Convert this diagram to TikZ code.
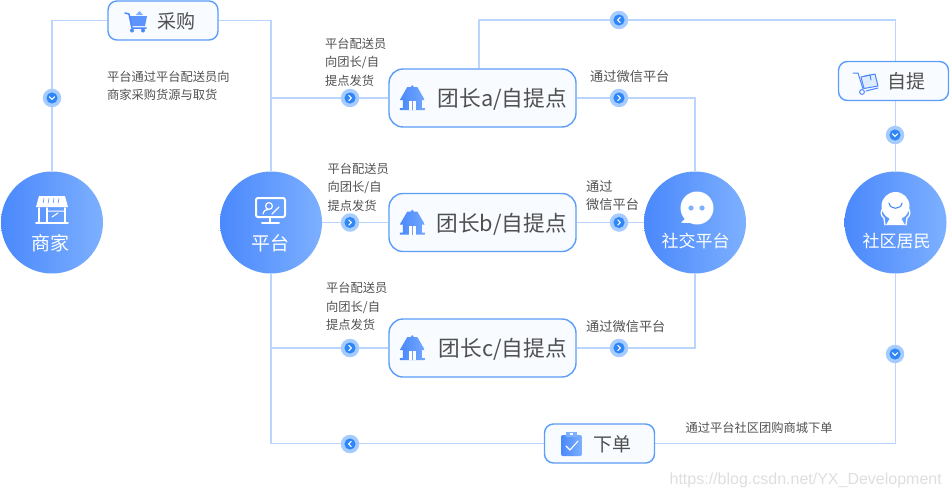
\documentclass[tikz,border=0pt]{standalone}
\usepackage{fontspec}
\setmainfont{Noto Sans CJK SC}
\newfontfamily\markfont{Liberation Sans}
\usepackage{xcolor}
\usetikzlibrary{arrows.meta,positioning,calc,backgrounds}
\definecolor{flowLine}{HTML}{BAD6FF}
\definecolor{flowBlue}{HTML}{4A88FC}
\definecolor{flowPale}{HTML}{7DB0FF}
\definecolor{flowEdge}{HTML}{5C9DF8}
\definecolor{flowFill}{HTML}{F8FBFF}
\definecolor{flowText}{HTML}{505050}
\definecolor{badgeOut}{HTML}{A6CCFF}
\definecolor{badgeIn}{HTML}{2F86F6}
\tikzset{
  hub/.style={circle, minimum size=102pt, inner sep=0pt, left color=flowBlue, right color=flowPale},
  hubtext/.style={text=white, font=\fontsize{#1}{#1}\selectfont, inner sep=0pt},
  smallbox/.style={draw=flowEdge, fill=flowFill, line width=1.4pt, rounded corners=9pt, minimum height=39pt,
    text width=64pt, text height=17.5pt, text depth=2pt, inner xsep=23pt, inner ysep=0pt, align=right, text=flowText, font=\fontsize{19}{19}\selectfont},
  tuanbox/.style={draw=flowEdge, fill=flowFill, line width=1.4pt, rounded corners=14pt, minimum height=58pt,
    text width=169pt, text height=20pt, text depth=3pt, inner xsep=9pt, inner ysep=0pt, align=right, text=flowText, font=\fontsize{21.7}{21.7}\selectfont},
  note/.style={anchor=west, inner sep=0pt, align=left, text=flowText, font=\fontsize{12.25}{18.5}\selectfont},
  link/.style={draw=flowLine, line width=1.6pt},
  badge/.style={circle, minimum size=18.5pt, inner sep=0pt, fill=badgeOut},
  chevron/.style={draw=white, line width=1.1pt, line cap=round, line join=round},
  iconline/.style={draw=flowBlue, line width=1pt, line cap=round, line join=round},
  whiteline/.style={draw=white, line width=1.6pt, line cap=round, line join=round},
}
\begin{document}
\begin{tikzpicture}[x=1pt,y=-1pt]
\useasboundingbox (0,0) rectangle (950,498);
\foreach \name/\x in {shangjia/52,pingtai/271,shejiao/695,jumin/895.5}{
  \node[hub] (\name) at (\x,222.5) {};
}
\node[hubtext=19] (shangjiaL) at (50,243.5) {商家};
\node[hubtext=19] (pingtaiL) at (270,243.5) {平台};
\node[hubtext=17] (shejiaoL) at (695.5,241) {社交平台};
\node[hubtext=17] (juminL) at (896.5,241) {社区居民};

\node[smallbox] (caigou) at (163,20.5) {采购};
\node[smallbox] (ziti) at (893.5,81) {自提};
\node[smallbox] (xiadan) at (599.5,443.5) {下单};
\node[tuanbox] (tuanA) at (482.5,98) {团长a/自提点};
\node[tuanbox] (tuanB) at (482.5,222.5) {团长b/自提点};
\node[tuanbox] (tuanC) at (482.5,348) {团长c/自提点};

\coordinate (topbend) at (479,20);
\begin{scope}[on background layer]
\draw[link] (shangjia) -- (shangjia |- caigou) -- (caigou);
\draw[link] (caigou) -- (pingtai |- caigou) -- (pingtai);
\draw[link] (pingtai) -- (pingtai |- xiadan) -- (xiadan);
\draw[link] (pingtai |- tuanA) -- (tuanA);
\draw[link] (pingtai) -- (tuanB);
\draw[link] (pingtai |- tuanC) -- (tuanC);
\draw[link] (tuanA) -- (shejiao |- tuanA) -- (shejiao);
\draw[link] (tuanB) -- (shejiao);
\draw[link] (tuanC) -- (shejiao |- tuanC) -- (shejiao);
\draw[link] (topbend |- tuanA.north) -- (topbend) -- (topbend -| jumin) -- (jumin |- ziti.north);
\draw[link] (jumin |- ziti.south) -- (jumin);
\draw[link] (jumin) -- (jumin |- xiadan) -- (xiadan);
\end{scope}

\foreach \name/\x/\y/\rot in {bShangjia/52/98/-90,bA/350/98/0,bB/350/222.5/0,bC/350/348/0,bWxA/619/98/0,bWxB/619/222.5/0,bWxC/619/348/0,bTop/619/20/180,bZiti/895/135/-90,bJumin/895/354/-90,bXiadan/350/444/180}{
  \node[badge] (\name) at (\x,\y) {};
  \fill[badgeIn] (\name) circle (5.6);
  \draw[chevron, shift={(\name)}, rotate=\rot] (-1.2,-2.6) -- (1.4,0) -- (-1.2,2.6);
}

\node[note] (noteCaigou) at (107,86) {平台通过平台配送员向\\商家采购货源与取货};
\node[note] (noteA) at (325,62) {平台配送员\\向团长/自\\提点发货};
\node[note] (noteB) at (327.5,187) {平台配送员\\向团长/自\\提点发货};
\node[note] (noteC) at (326,306.5) {平台配送员\\向团长/自\\提点发货};
\node[note, font=\fontsize{13.2}{18.5}\selectfont] (noteWxA) at (590,76.5) {通过微信平台};
\node[note, font=\fontsize{13.2}{18.5}\selectfont] (noteWxB) at (586,195.5) {通过\\微信平台};
\node[note, font=\fontsize{13.2}{18.5}\selectfont] (noteWxC) at (586,326.5) {通过微信平台};
\node[note] (noteXiadan) at (685.5,427.5) {通过平台社区团购商城下单};
\node[anchor=east, inner sep=0pt, text=black!13, font=\markfont\fontsize{16}{16}\selectfont] (mark) at (942,480) {https://blog.csdn.net/YX\_Development};

% icons
\foreach \name in {tuanA,tuanB,tuanC}{
  \begin{scope}[shift={($(\name.west)+(24,0)$)}]
    \shade[left color=flowBlue, right color=flowPale!80!flowBlue]
      (-5,-11) -- (-1.5,-11) -- (0,-13) -- (1.5,-11) -- (5,-11) -- (12.5,2) -- (9.5,2) -- (9.5,10) -- (12.5,10) -- (12.5,12)
      -- (-12.5,12) -- (-12.5,10) -- (-9.5,10) -- (-9.5,2) -- (-12.5,2) -- cycle;
    \fill[white] (-3.5,3) rectangle (3.5,12);
    \fill[flowBlue!80] (-0.7,3) rectangle (0.7,12);
  \end{scope}
}
% shop
\fill[white] (39,196) -- (65,196) -- (68,207) -- (36,207) -- cycle;
\foreach \x in {44,49,54,59}{\draw[flowBlue!80, line width=.7pt] (\x,198) -- (\x-.8,203);}
\draw[whiteline] (39,208) -- (39,222) (65,208) -- (65,222) (47,208) -- (47,222) (36,223) -- (68,223);
\draw[whiteline, line width=1pt] (47,211) -- (65,211) (52,217) -- (58,213);
% monitor
\draw[whiteline, line width=2pt, rounded corners=2pt] (256,198) rectangle (285,217);
\draw[whiteline, line width=2pt] (270,217) -- (270,222) (262,223) -- (279,223);
\draw[whiteline, line width=1.2pt] (269,206) circle (3.4) (263,214) .. controls (264,210) and (266,209.5) .. (268,209.5);
\draw[whiteline, line width=1.2pt] (272,214) -- (279,207);
% chat
\fill[white] (697,208) circle (16.5);
\fill[white] (686,218) -- (681,222.5) .. controls (686,223.5) and (690,223) .. (694,222) -- cycle;
\fill[flowPale] (691,208) circle (2.6) (702,208) circle (2.6);
% resident
\fill[white] (895.5,206) circle (14);
\fill[white] (890,218) -- (901,218) -- (905,225) -- (886,225) -- cycle;
\draw[flowBlue, line width=1.1pt, line cap=round] (889,203) .. controls (890,210) and (901,210) .. (902,203);
\draw[whiteline, line width=1.3pt] (883,208) .. controls (880,212) and (881,216) .. (884,218) -- (885,225);
\draw[whiteline, line width=1.3pt] (908,208) .. controls (911,212) and (910,216) .. (907,218) -- (906,225);
% cart
\fill[flowBlue!90] (129,16) -- (147,16) -- (145,26) -- (131,26) -- cycle;
\draw[iconline, line width=1.5pt] (125,13) -- (129,14) -- (132,28) -- (146,28);
\fill[flowPale] (136,15) -- (139.5,11) -- (143,15) -- cycle;
\fill[flowBlue] (132,30.5) circle (2) (143,30.5) circle (2);
% hand truck
\draw[iconline] (853,73) -- (858,73) -- (863,89);
\draw[iconline] (862,92) circle (2.4) (866,91) -- (878,88);
\draw[iconline, fill=flowPale!25] (861,77) -- (875,74) -- (878,86) -- (864,88.5) -- cycle;
\draw[iconline] (865,76) -- (870,75) -- (871,80);
% clipboard
\shade[left color=flowBlue, right color=flowPale, rounded corners=2pt] (561,435) rectangle (582,456);
\fill[flowPale] (566,432) rectangle (577,437);
\fill[white] (570,433) rectangle (573,435);
\draw[whiteline, line width=1.1pt] (566,446) -- (570,450) -- (578,441);
\end{tikzpicture}
\end{document}
